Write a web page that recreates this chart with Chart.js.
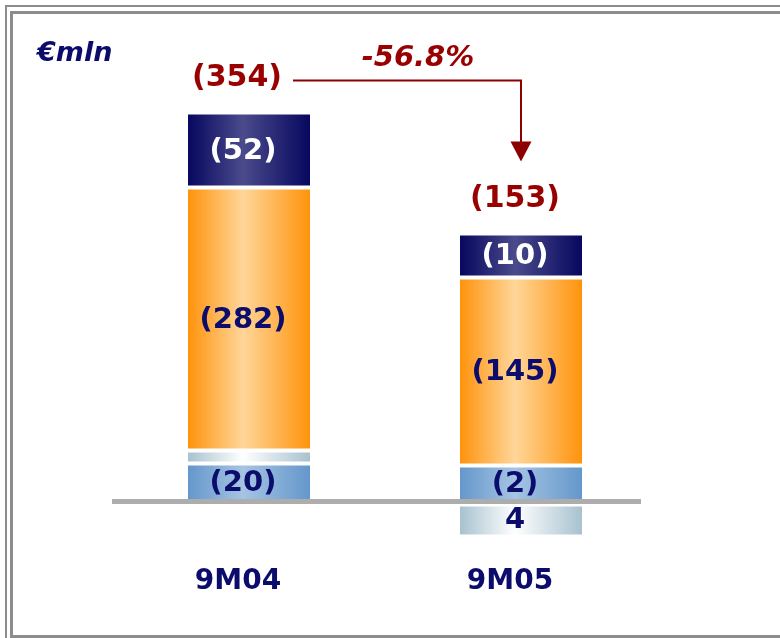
<!DOCTYPE html>
<html>
<head>
<meta charset="utf-8">
<script src="https://cdn.jsdelivr.net/npm/chart.js@4"></script>
<style>
    body { margin: 0; background: #ffffff; }
    #wrap { width: 780px; height: 638px; position: relative; }
</style>
</head>
<body>
<div id="wrap"><canvas id="costChart" width="780" height="638"></canvas></div>
<script>
// 数据：柱段高度按原图比例读取（原图并非按数值比例绘制），标签为原图文字
const categories = ['9M04', '9M05'];
const otherValues = [-38, -36];      // (20) / (2)
const minorValues = [-13, 35];       // 细条 / 4
const mainValues = [-263, -188];     // (282) / (145)
const topValues = [-75, -44];        // (52) / (10)

const otherLabels = ['(20)', '(2)'];
const minorLabels = ['', '4'];
const mainLabels = ['(282)', '(145)'];
const topLabels = ['(52)', '(10)'];
const totalLabels = ['(354)', '(153)'];
const changeLabel = '-56.8%';
const unitLabel = '€mln';

const BAR_W = 122;
const NAVY = '#0c0c6c';
const DARK_RED = '#990000';
const LABEL_FONT = '"DejaVu Sans", sans-serif';

// 横向渐变填充
function barGradient(edge, middle) {
    return function(context) {
        const chart = context.chart;
        if (context.type !== 'data' || !chart.chartArea) return edge;
        const x = chart.scales.x.getPixelForValue(context.dataIndex);
        const g = chart.ctx.createLinearGradient(x - BAR_W / 2, 0, x + BAR_W / 2, 0);
        g.addColorStop(0, edge);
        g.addColorStop(0.45, middle);
        g.addColorStop(1, edge);
        return g;
    };
}

function segment(values, labels, edge, middle, textColor) {
    return {
        data: values,
        labels: labels,
        textColor: textColor,
        backgroundColor: barGradient(edge, middle),
        borderColor: '#ffffff',
        borderSkipped: false,
        inflateAmount: 0,
        borderWidth: function(context) {
            const v = context.raw;
            if (v > 0) return { top: 5, bottom: 2, left: 0, right: 0 };
            return { top: 2, bottom: 2, left: 0, right: 0 };
        },
        barThickness: BAR_W,
        stack: 'cost'
    };
}

// 边框、零线、文字
const decorPlugin = {
    id: 'decor',
    beforeDraw(chart) {
        const ctx = chart.ctx;
        ctx.save();
        ctx.fillStyle = '#ffffff';
        ctx.fillRect(0, 0, chart.width, chart.height);
        ctx.strokeStyle = '#8c8c8c';
        ctx.lineWidth = 2;
        ctx.strokeRect(6, 6, chart.width + 20, chart.height + 20);
        ctx.lineWidth = 3;
        ctx.strokeRect(11.5, 12.5, chart.width + 20, 624);
        ctx.restore();
    },
    afterDatasetsDraw(chart) {
        const ctx = chart.ctx;
        const xs = chart.scales.x;
        const ys = chart.scales.y;
        const zeroY = ys.getPixelForValue(0);
        const x0 = xs.getPixelForValue(0);
        const x1 = xs.getPixelForValue(1);

        ctx.save();
        // 零线
        ctx.fillStyle = '#adadad';
        ctx.fillRect(chart.chartArea.left - 1, zeroY - 2.5, x1 + BAR_W / 2 + 60 - chart.chartArea.left, 5);

        // 柱段标签
        ctx.textAlign = 'center';
        ctx.textBaseline = 'middle';
        ctx.font = 'bold 29px ' + LABEL_FONT;
        chart.data.datasets.forEach((ds, di) => {
            const meta = chart.getDatasetMeta(di);
            meta.data.forEach((bar, i) => {
                const text = ds.labels[i];
                if (!text) return;
                const mid = (bar.y + bar.base) / 2;
                ctx.fillStyle = ds.textColor;
                ctx.fillText(text, bar.x - 6, mid + 1);
            });
        });

        // 合计
        const tops = categories.map((c, i) => {
            let top = zeroY;
            chart.data.datasets.forEach((ds, di) => {
                const bar = chart.getDatasetMeta(di).data[i];
                top = Math.min(top, bar.y, bar.base);
            });
            return top;
        });
        ctx.font = 'bold 30px ' + LABEL_FONT;
        ctx.fillStyle = DARK_RED;
        const totalY = tops.map(t => t - 34);
        ctx.fillText(totalLabels[0], x0 - 12, totalY[0]);
        ctx.fillText(totalLabels[1], x1 - 6, totalY[1]);

        // 箭头
        const w0 = ctx.measureText(totalLabels[0]).width;
        const startX = x0 - 12 + w0 / 2 + 11;
        const lineY = totalY[0] + 2;
        const tipY = totalY[1] - 38;
        ctx.strokeStyle = '#8b0000';
        ctx.lineWidth = 2;
        ctx.beginPath();
        ctx.moveTo(startX, lineY);
        ctx.lineTo(x1, lineY);
        ctx.lineTo(x1, tipY - 18);
        ctx.stroke();
        ctx.fillStyle = '#8b0000';
        ctx.beginPath();
        ctx.moveTo(x1 - 10.5, tipY - 20);
        ctx.lineTo(x1 + 10.5, tipY - 20);
        ctx.lineTo(x1, tipY);
        ctx.closePath();
        ctx.fill();

        // 变化率
        ctx.font = 'italic bold 29px "DejaVu Sans", sans-serif';
        ctx.fillStyle = DARK_RED;
        ctx.fillText(changeLabel, (startX + x1) / 2 + 11, lineY - 22);

        // 单位
        ctx.font = 'italic bold 27px "DejaVu Sans", sans-serif';
        ctx.fillStyle = NAVY;
        ctx.textAlign = 'left';
        ctx.fillText(unitLabel, 37, 54);

        // 类别
        ctx.textAlign = 'center';
        ctx.font = 'bold 28px ' + LABEL_FONT;
        ctx.fillStyle = NAVY;
        categories.forEach((c, i) => {
            ctx.fillText(c, xs.getPixelForValue(i) - 11, 582);
        });
        ctx.restore();
    }
};

new Chart(document.getElementById('costChart'), {
    type: 'bar',
    data: {
        labels: categories,
        datasets: [
            segment(otherValues, otherLabels, '#6497cb', '#a6c4e3', NAVY),
            segment(minorValues, minorLabels, '#a8c2cf', '#ffffff', NAVY),
            segment(mainValues, mainLabels, '#ff930c', '#ffd699', NAVY),
            segment(topValues, topLabels, '#07075f', '#4a4a8c', '#ffffff')
        ]
    },
    options: {
        responsive: false,
        animation: false,
        devicePixelRatio: 1,
        layout: { padding: { left: 113, right: 123, top: 60, bottom: 38 } },
        plugins: {
            legend: { display: false },
            tooltip: { enabled: false }
        },
        scales: {
            x: { display: false, stacked: true },
            y: { display: false, stacked: true, reverse: true, min: -441.5, max: 98.5 }
        }
    },
    plugins: [decorPlugin]
});
</script>
</body>
</html>
